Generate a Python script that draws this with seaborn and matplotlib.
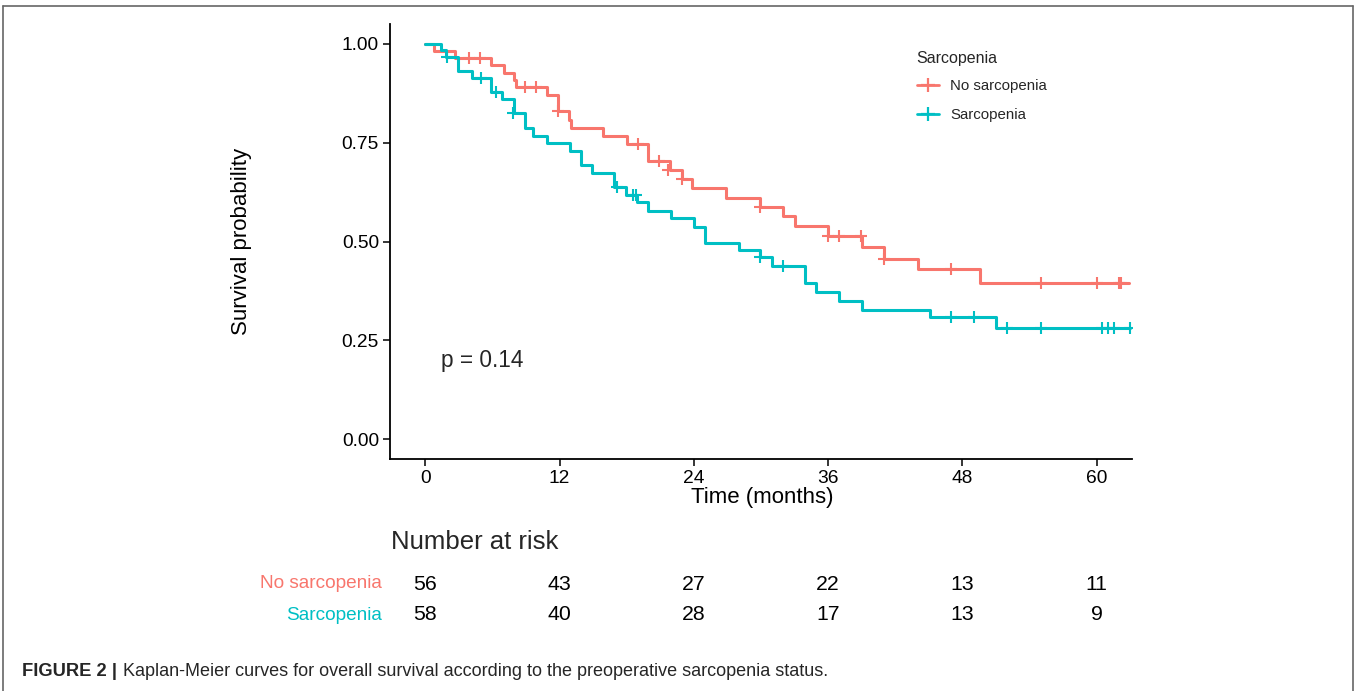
import matplotlib
matplotlib.use("Agg")
import matplotlib.pyplot as plt
from matplotlib.lines import Line2D
import matplotlib.transforms as mtransforms
import seaborn as sns
import pandas as pd

# ---------------- data ----------------
groups = ["No sarcopenia", "Sarcopenia"]
colors = ["#F8766D", "#00BFC4"]

no_times = [0, 0.8, 2.7, 5.85, 7.0, 7.9, 8.1, 10.9, 11.9, 12.8, 13.0, 15.9, 18.0,
            19.9, 21.9, 22.9, 23.8, 26.9, 29.9, 32.0, 33.0, 36.0, 39.0, 41.0, 44.0,
            49.6, 62.9]
no_surv = [1.0, 0.982, 0.964, 0.947, 0.927, 0.909, 0.890, 0.871, 0.829, 0.808, 0.787,
           0.766, 0.746, 0.704, 0.681, 0.658, 0.636, 0.611, 0.588, 0.564, 0.540,
           0.515, 0.487, 0.457, 0.430, 0.394, 0.394]
no_cens_t = [3.9, 4.9, 8.9, 9.9, 11.9, 19.0, 20.9, 21.7, 22.9, 29.9, 36.0, 37.0,
             38.9, 41.0, 47.0, 55.0, 60.0, 62.0, 62.2]
no_cens_s = [0.964, 0.964, 0.890, 0.890, 0.829, 0.746, 0.704, 0.681, 0.658, 0.588,
             0.515, 0.515, 0.515, 0.457, 0.430, 0.394, 0.394, 0.394, 0.394]

sa_times = [0, 1.4, 1.84, 2.9, 4.2, 5.85, 6.9, 7.9, 8.9, 9.65, 10.9, 12.9, 13.9,
            14.9, 16.9, 17.9, 18.9, 19.9, 22.0, 24.0, 25.0, 28.0, 29.9, 30.95,
            33.9, 34.95, 37.0, 39.0, 45.1, 51.0, 63.0]
sa_surv = [1.0, 0.983, 0.966, 0.930, 0.913, 0.879, 0.860, 0.824, 0.787, 0.767,
           0.748, 0.730, 0.694, 0.674, 0.637, 0.618, 0.599, 0.577, 0.559, 0.537,
           0.497, 0.478, 0.460, 0.439, 0.395, 0.373, 0.350, 0.328, 0.308, 0.282,
           0.282]
sa_cens_t = [1.9, 5.0, 6.3, 7.8, 17.1, 18.6, 18.8, 29.9, 32.0, 47.0, 49.0, 52.0,
             55.0, 60.5, 61.0, 61.5, 63.0]
sa_cens_s = [0.966, 0.913, 0.879, 0.824, 0.637, 0.618, 0.618, 0.460, 0.439, 0.308,
             0.308, 0.282, 0.282, 0.282, 0.282, 0.282, 0.282]

risk_times = [0, 12, 24, 36, 48, 60]
risk_no = [56, 43, 27, 22, 13, 11]
risk_sa = [58, 40, 28, 17, 13, 9]

x_ticks = [0, 12, 24, 36, 48, 60]
y_ticks = [0.00, 0.25, 0.50, 0.75, 1.00]
p_text = "p = 0.14"

# ---------------- tables ----------------
curves = pd.concat([
    pd.DataFrame({"time": no_times, "surv": no_surv, "group": groups[0]}),
    pd.DataFrame({"time": sa_times, "surv": sa_surv, "group": groups[1]}),
], ignore_index=True)
cens = pd.concat([
    pd.DataFrame({"time": no_cens_t, "surv": no_cens_s, "group": groups[0]}),
    pd.DataFrame({"time": sa_cens_t, "surv": sa_cens_s, "group": groups[1]}),
], ignore_index=True)
palette = dict(zip(groups, colors))

# ---------------- style ----------------
sns.set_style("white")
plt.rcParams["font.family"] = ["Liberation Sans", "DejaVu Sans"]

W, H = 1357, 691
fig = plt.figure(figsize=(W / 100, H / 100), dpi=100)
ax = fig.add_axes([390 / W, 1 - 459 / H, (1132 - 390) / W, (459 - 24) / H])

sns.lineplot(data=curves, x="time", y="surv", hue="group", palette=palette,
             drawstyle="steps-post", estimator=None, legend=False,
             linewidth=2.2, ax=ax)
for g in groups:
    sub = cens[cens["group"] == g]
    ax.plot(sub["time"], sub["surv"], linestyle="none", marker="+",
            markersize=9, markeredgewidth=1.5, color=palette[g], zorder=4)

ax.set_xlim(-3.15, 63.15)
ax.set_ylim(-0.05, 1.05)
ax.set_xticks(x_ticks)
ax.set_yticks(y_ticks)
ax.set_yticklabels([f"{v:.2f}" for v in y_ticks])
ax.tick_params(axis="both", which="both", length=5, width=1.1, color="black",
               labelsize=13.8, labelcolor="black", direction="out", pad=3,
               left=True, bottom=True)
for side in ["top", "right"]:
    ax.spines[side].set_visible(False)
for side in ["left", "bottom"]:
    ax.spines[side].set_color("black")
    ax.spines[side].set_linewidth(1.3)
ax.set_xlabel("")
ax.set_ylabel("")
ax.grid(False)

fig.text(242 / W, 1 - 241 / H, "Survival probability", rotation=90,
         ha="center", va="center", fontsize=16, color="black")
fig.text(762 / W, 1 - 497 / H, "Time (months)", ha="center", va="center",
         fontsize=16, color="black")
fig.text(441 / W, 1 - 361 / H, p_text, ha="left", va="center", fontsize=16.3)

# legend
handles = [Line2D([0], [0], color=c, lw=2, marker="+", markersize=10,
                  markeredgewidth=1.6) for c in colors]
leg = ax.legend(handles, groups, title="Sarcopenia", loc="upper left",
                bbox_to_anchor=(909 / W, 1 - 44 / H),
                bbox_transform=fig.transFigure, frameon=False,
                fontsize=10.8, title_fontsize=11.5, handlelength=1.5,
                handletextpad=0.75, labelspacing=1.0, borderpad=0,
                alignment="left")
leg._legend_box.sep = 9

# risk table
trans = mtransforms.blended_transform_factory(ax.transData, fig.transFigure)
fig.text(391 / W, 1 - 542 / H, "Number at risk", ha="left", va="center",
         fontsize=18.5)
rows = [(groups[0], risk_no, colors[0], 584), (groups[1], risk_sa, colors[1], 615)]
for name, vals, col, ypx in rows:
    fig.text(382 / W, 1 - ypx / H, name, ha="right", va="center",
             fontsize=13.7, color=col)
    for t, v in zip(risk_times, vals):
        ax.text(t, 1 - ypx / H, str(v), transform=trans, ha="center",
                va="center", fontsize=15.3, color="black", clip_on=False)

# caption
fig.text(22 / W, 1 - 671 / H, "FIGURE 2 |", ha="left", va="center",
         fontsize=13.2, fontweight="bold")
fig.text(123 / W, 1 - 671 / H,
         "Kaplan-Meier curves for overall survival according to the preoperative sarcopenia status.",
         ha="left", va="center", fontsize=13)

# outer frame
for xs, ys in [((3, 3), (6, 691)), ((3, 1353), (6, 6)), ((1353, 1353), (6, 691))]:
    fig.add_artist(Line2D([x / W for x in xs], [1 - y / H for y in ys],
                          transform=fig.transFigure, color="#666666", lw=1.2))

fig.savefig("out.png", dpi=100)
